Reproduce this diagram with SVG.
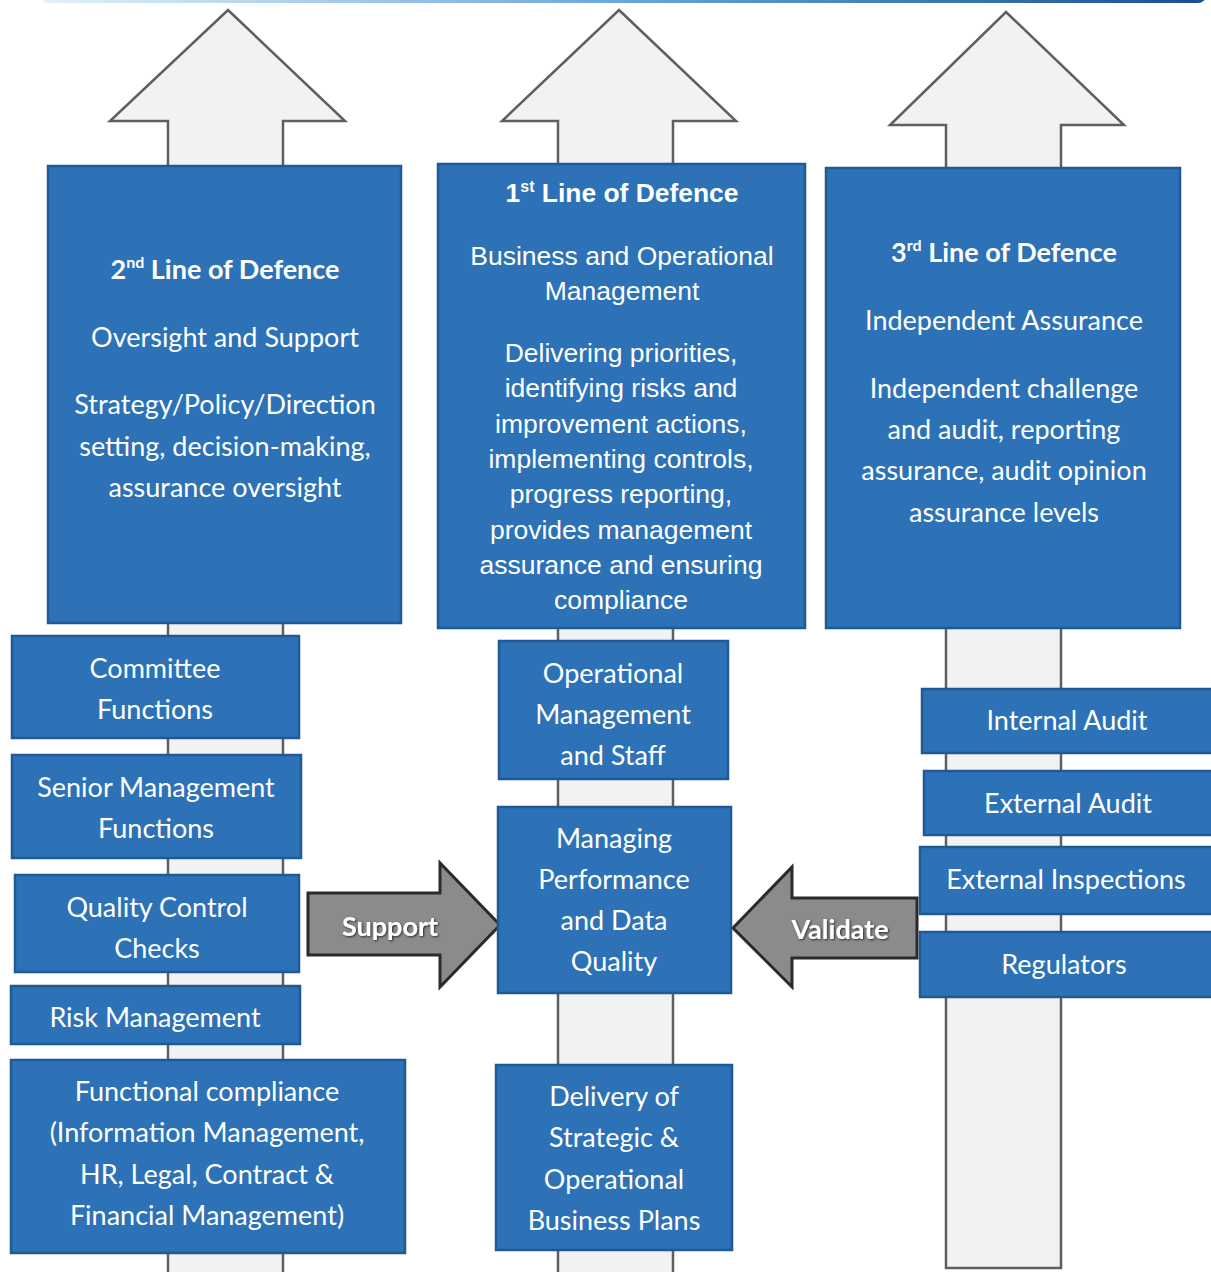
<svg xmlns="http://www.w3.org/2000/svg" width="1211" height="1272" viewBox="0 0 1211 1272">
<defs>
<linearGradient id="topbar" x1="0" y1="0" x2="1" y2="0">
<stop offset="0" stop-color="#e2f1fb"/>
<stop offset="0.5" stop-color="#6aa6d8"/>
<stop offset="1" stop-color="#1a4f8c"/>
</linearGradient>
<filter id="sh" x="-10%" y="-10%" width="120%" height="130%">
<feDropShadow dx="1" dy="1" stdDeviation="1" flood-color="#000" flood-opacity="0.7"/>
</filter>
</defs>
<style>
.box{fill:#2d72b6;stroke:#1f5a96;stroke-width:2.5}
.up{fill:#f2f2f2;stroke:#5f5f5f;stroke-width:2.5}
.side{fill:#8b8b8b;stroke:#2a2a2a;stroke-width:3}
.t{fill:#ffffff;font-family:Lato,"Open Sans",sans-serif;font-size:27px;text-anchor:middle}
.tb{fill:#ffffff;font-family:Lato,"Open Sans",sans-serif;font-size:27px;font-weight:bold;text-anchor:middle}
.a{fill:#ffffff;font-family:"Liberation Sans",Arial,sans-serif;font-size:26.5px;text-anchor:middle}
.ab{fill:#ffffff;font-family:"Liberation Sans",Arial,sans-serif;font-size:26.4px;font-weight:bold;text-anchor:middle}
.lbl{fill:#ffffff;font-family:Lato,"Open Sans",sans-serif;font-size:27px;font-weight:bold;text-anchor:middle}
</style>
<rect x="40" y="-12" width="1166" height="15" rx="8" fill="url(#topbar)"/>
<g id="connectors">
<polygon id="arrow-up-2nd" class="up" points="228,10 345,121 283,121 283,1285 168,1285 168,121 110,121"/>
<polygon id="arrow-up-1st" class="up" points="619,10 736,121 673,121 673,1285 558,1285 558,121 502,121"/>
<polygon id="arrow-up-3rd" class="up" points="1006,12 1124,125 1061,125 1061,1268 946,1268 946,125 890,125"/>
<g id="support">
<polygon class="side" points="308,893 440,893 440,863 500,925 440,987 440,955 308,955"/>
<text class="lbl" x="390" y="936" filter="url(#sh)">Support</text>
</g>
<g id="validate">
<polygon class="side" points="917,898 792,898 792,867 733,928 792,987 792,958 917,958"/>
<text class="lbl" x="840" y="939" filter="url(#sh)">Validate</text>
</g>
</g>
<g id="second-line">
<rect class="box" x="48" y="166" width="353" height="457"/>
<text class="tb" x="225" y="279">2<tspan font-size="16" dy="-11">nd</tspan><tspan dy="11"> Line of Defence</tspan></text>
<text class="t" x="225" y="347">Oversight and Support</text>
<text class="t" x="225" y="414">Strategy/Policy/Direction</text>
<text class="t" x="225" y="456">setting, decision-making,</text>
<text class="t" x="225" y="497">assurance oversight</text>
</g>
<g id="first-line">
<rect class="box" x="438" y="164" width="367" height="464"/>
<text class="ab" x="622" y="202">1<tspan font-size="16" dy="-10">st</tspan><tspan dy="10"> Line of Defence</tspan></text>
<text class="a" x="622" y="265">Business and Operational</text>
<text class="a" x="622" y="300">Management</text>
<text class="a" x="621" y="362">Delivering priorities,</text>
<text class="a" x="621" y="397">identifying risks and</text>
<text class="a" x="621" y="433">improvement actions,</text>
<text class="a" x="621" y="468">implementing controls,</text>
<text class="a" x="621" y="503">progress reporting,</text>
<text class="a" x="621" y="539">provides management</text>
<text class="a" x="621" y="574">assurance and ensuring</text>
<text class="a" x="621" y="609">compliance</text>
</g>
<g id="third-line">
<rect class="box" x="826" y="168" width="354" height="460"/>
<text class="tb" x="1004" y="262">3<tspan font-size="16" dy="-11">rd</tspan><tspan dy="11"> Line of Defence</tspan></text>
<text class="t" x="1004" y="330">Independent Assurance</text>
<text class="t" x="1004" y="398">Independent challenge</text>
<text class="t" x="1004" y="439">and audit, reporting</text>
<text class="t" x="1004" y="480">assurance, audit opinion</text>
<text class="t" x="1004" y="522">assurance levels</text>
</g>
<g id="committee">
<rect class="box" x="12" y="636" width="287" height="102"/>
<text class="t" x="155" y="678">Committee</text>
<text class="t" x="155" y="719">Functions</text>
</g>
<g id="senior-management">
<rect class="box" x="12" y="755" width="289" height="103"/>
<text class="t" x="156" y="797">Senior Management</text>
<text class="t" x="156" y="838">Functions</text>
</g>
<g id="quality-control">
<rect class="box" x="15" y="875" width="284" height="97"/>
<text class="t" x="157" y="917">Quality Control</text>
<text class="t" x="157" y="958">Checks</text>
</g>
<g id="risk-management">
<rect class="box" x="11" y="986" width="289" height="58"/>
<text class="t" x="155" y="1027">Risk Management</text>
</g>
<g id="functional-compliance">
<rect class="box" x="11" y="1060" width="394" height="193"/>
<text class="t" x="207" y="1101">Functional compliance</text>
<text class="t" x="207" y="1142">(Information Management,</text>
<text class="t" x="207" y="1184">HR, Legal, Contract &amp;</text>
<text class="t" x="207" y="1225">Financial Management)</text>
</g>
<g id="operational-management">
<rect class="box" x="499" y="641" width="229" height="138"/>
<text class="t" x="613" y="683">Operational</text>
<text class="t" x="613" y="724">Management</text>
<text class="t" x="613" y="765">and Staff</text>
</g>
<g id="managing-performance">
<rect class="box" x="498" y="807" width="233" height="186"/>
<text class="t" x="614" y="848">Managing</text>
<text class="t" x="614" y="889">Performance</text>
<text class="t" x="614" y="930">and Data</text>
<text class="t" x="614" y="971">Quality</text>
</g>
<g id="delivery">
<rect class="box" x="496" y="1065" width="236" height="185"/>
<text class="t" x="614" y="1106">Delivery of</text>
<text class="t" x="614" y="1147">Strategic &amp;</text>
<text class="t" x="614" y="1189">Operational</text>
<text class="t" x="614" y="1230">Business Plans</text>
</g>
<g id="internal-audit">
<rect class="box" x="922" y="689" width="292" height="64"/>
<text class="t" x="1067" y="730">Internal Audit</text>
</g>
<g id="external-audit">
<rect class="box" x="924" y="771" width="290" height="64"/>
<text class="t" x="1068" y="813">External Audit</text>
</g>
<g id="external-inspections">
<rect class="box" x="920" y="847" width="294" height="67"/>
<text class="t" x="1066" y="889">External Inspections</text>
</g>
<g id="regulators">
<rect class="box" x="920" y="932" width="294" height="65"/>
<text class="t" x="1064" y="974">Regulators</text>
</g>
</svg>
